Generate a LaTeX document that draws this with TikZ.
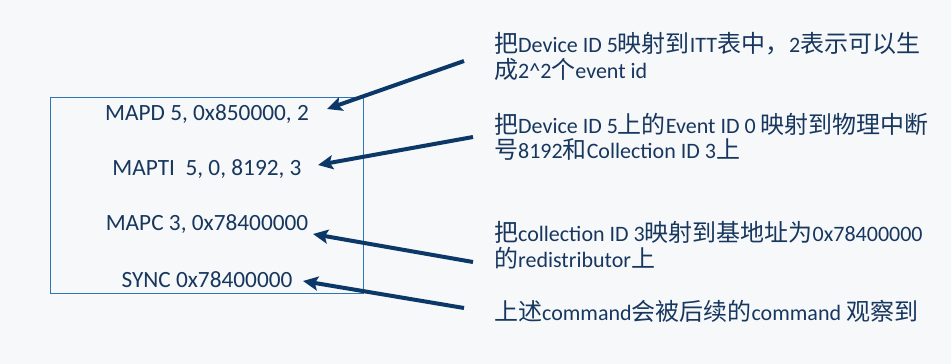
\documentclass[tikz,border=0pt]{standalone}
\usepackage{fontspec}
\setmainfont{Carlito}
\newfontfamily\cjkfont{Noto Sans CJK SC}[Scale=1.09]
\newcommand\zh[1]{{\cjkfont #1}}
\usetikzlibrary{arrows.meta}
\definecolor{bgc}{RGB}{247,248,250}
\definecolor{txtc}{RGB}{23,55,94}
\definecolor{arrc}{RGB}{12,56,104}
\definecolor{framec}{RGB}{46,117,182}
\begin{document}
\begin{tikzpicture}[x=1pt,y=-1pt,
  cmd/.style={anchor=base, text=txtc, font=\fontsize{23.3}{28}\selectfont, inner sep=0pt},
  note/.style={anchor=base west, text=txtc, font=\fontsize{22}{26}\selectfont, inner sep=0pt},
  arrowline/.style={draw=arrc, line width=4pt, -{Stealth[length=15pt,width=14pt,inset=3pt]}},
  framebox/.style={draw=framec, line width=1.3pt, inner sep=0pt, anchor=north west}]
\fill[bgc] (0,0) rectangle (951,364);
\useasboundingbox (0,0) rectangle (951,364);
\node[framebox, minimum width=313pt, minimum height=196pt] (box) at (50,97) {};
\node[cmd] (m1) at (207,120) {MAPD 5, 0x850000, 2};
\node[cmd] (m2) at (207,175) {MAPTI~~5, 0, 8192, 3};
\node[cmd] (m3) at (207,230) {MAPC 3, 0x78400000};
\node[cmd] (m4) at (207,287) {SYNC 0x78400000};
\node[note] (n1a) at (494,52) {\zh{把}Device ID 5\zh{映射到}ITT\zh{表中，}2\zh{表示可以生}};
\node[note] (n1b) at (494,78) {\zh{成}2\textasciicircum 2\zh{个}event id};
\node[note] (n2a) at (494,133) {\zh{把}Device ID 5\zh{上的}Event ID 0 \zh{映射到物理中断}};
\node[note] (n2b) at (494,158) {\zh{号}8192\zh{和}Collection ID 3\zh{上}};
\node[note] (n3a) at (494,241) {\zh{把}collection ID 3\zh{映射到基地址为}0x78400000};
\node[note] (n3b) at (494,267) {\zh{的}redistributor\zh{上}};
\node[note] (n4) at (494,320) {\zh{上述}command\zh{会被后续的}command \zh{观察到}};
\coordinate (s1) at (464,61);  \coordinate (e1) at (327,109);
\coordinate (s2) at (473,137); \coordinate (e2) at (318,165);
\coordinate (s3) at (473,262); \coordinate (e3) at (313,234);
\coordinate (s4) at (464,308); \coordinate (e4) at (303,281);
\draw[arrowline] (s1) -- (e1);
\draw[arrowline] (s2) -- (e2);
\draw[arrowline] (s3) -- (e3);
\draw[arrowline] (s4) -- (e4);
\end{tikzpicture}
\end{document}
